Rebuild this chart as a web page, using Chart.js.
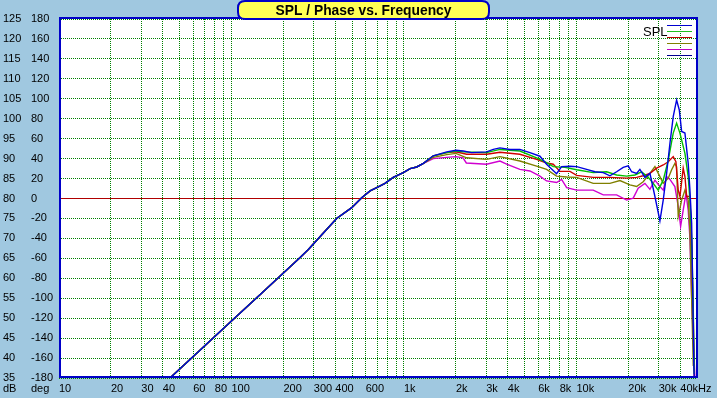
<!DOCTYPE html>
<html><head><meta charset="utf-8">
<script src="https://cdn.jsdelivr.net/npm/chart.js@4"></script>
<style>html,body{margin:0;padding:0;background:#A0C8E0;overflow:hidden}canvas{display:block}</style>
</head><body>
<canvas id="c" width="717" height="398"></canvas>
<script>
// ---- data (frequency in Hz, SPL in dB) ----
const commonFreq = [44, 60, 80, 100, 150, 200, 250, 279, 340, 407, 498, 569, 636, 700, 776, 867, 991, 1086, 1186, 1296];
const commonSpl  = [35.0, 40.4, 45.4, 49.3, 56.3, 61.3, 65.2, 67.2, 71.3, 75.0, 77.7, 80.2, 81.9, 82.8, 83.8, 85.3, 86.5, 87.5, 87.9, 88.8];

const blueFreq = [1479, 1770, 2001, 2206, 2468, 3015, 3294, 3602, 4115, 4699, 5373, 6141, 6713, 7671, 8203, 9170, 10030, 11460, 12790, 14300, 15630, 17100, 18670, 19960, 20890, 22330, 23330, 24950, 26670, 28510, 30480, 31850, 33330, 34830, 36400, 38080, 39470, 40740, 42560, 44460, 45500, 46550, 47200, 47950, 48400];
const blueSpl  = [90.7, 91.7, 92.1, 91.9, 91.5, 91.7, 92.3, 92.7, 92.3, 92.3, 91.5, 90.6, 88.6, 86.2, 88.0, 88.1, 88.0, 87.3, 86.7, 86.5, 85.7, 86.7, 87.8, 88.2, 86.7, 86.3, 87.3, 85.3, 86.3, 80.5, 74.4, 79.6, 86.3, 93.8, 100.5, 104.7, 102.2, 96.8, 96.4, 88.8, 82.1, 73.8, 58, 38, 33];

const greenFreq = [1479, 1770, 2001, 2206, 2522, 3015, 3602, 4699, 5875, 6713, 7338, 8577, 10030, 12510, 14960, 17100, 19540, 21830, 23870, 26070, 27880, 29790, 31850, 34070, 36400, 38080, 39810, 42560, 44460, 45500, 46550, 47580, 48200];
const greenSpl  = [90.7, 91.5, 91.9, 91.7, 91.6, 91.5, 92.3, 91.9, 90.2, 89.0, 88.0, 87.8, 87.2, 86.5, 86.7, 85.9, 85.6, 85.9, 86.7, 85.3, 83.8, 82.1, 84.6, 89.6, 96.4, 98.9, 96.4, 91.3, 85.5, 79.6, 70, 52, 36];

const redFreq = [1479, 1770, 2001, 2308, 3015, 3602, 4699, 5875, 6713, 7338, 8020, 9170, 10030, 12510, 15630, 19540, 22330, 24380, 26670, 29170, 31850, 34070, 36400, 37730, 38920, 39810, 41590, 42560, 43550, 45500, 46550, 47580, 48200];
const redSpl  = [90.7, 91.5, 91.7, 91.1, 91.1, 91.6, 91.1, 89.8, 88.9, 88.6, 86.8, 86.8, 85.8, 85.3, 85.3, 85.1, 85.3, 85.7, 86.3, 87.6, 88.4, 89.2, 90.5, 89.2, 82.1, 80.5, 87.6, 85.5, 80.5, 80.5, 68, 50, 35];

const oliveFreq = [1479, 1770, 2001, 2308, 3015, 3602, 4699, 5875, 6713, 7671, 8776, 10030, 12510, 15630, 17870, 20420, 22330, 24380, 26670, 28510, 30480, 31850, 34070, 35640, 37210, 38080, 38920, 40740, 42560, 44460, 45500, 46550, 47580];
const oliveSpl  = [90.3, 91.0, 91.3, 90.2, 89.8, 90.5, 89.4, 88.1, 87.3, 85.6, 85.4, 85.3, 83.8, 83.8, 84.5, 83.4, 83.0, 84.2, 86.3, 88.0, 85.5, 83.8, 85.1, 87.2, 88.8, 88.0, 75.5, 79.6, 82.1, 79.6, 72, 55, 38];

const magentaFreq = [1479, 1770, 2001, 2200, 2300, 3015, 3602, 3938, 4699, 5373, 6141, 6713, 7671, 8203, 8776, 10030, 12510, 14300, 17100, 19540, 21340, 22800, 24950, 26670, 28510, 30480, 31850, 33330, 34830, 37210, 38920, 40180, 41590, 43150, 44460, 45500, 46550, 47580, 48640];
const magentaSpl  = [90.0, 90.3, 90.5, 90.2, 88.9, 88.6, 89.4, 88.6, 87.3, 86.9, 85.6, 84.4, 84.0, 84.8, 82.7, 82.1, 82.1, 80.9, 80.9, 79.6, 80.1, 82.6, 83.8, 82.3, 84.6, 83.0, 82.1, 85.5, 84.8, 83.0, 78.0, 73.0, 77.1, 81.3, 77.1, 70, 55, 45, 35];

// ---- axis ticks ----
const gridFreqs = [10,20,30,40,50,60,70,80,90,100,200,300,400,500,600,700,800,900,1000,2000,3000,4000,5000,6000,7000,8000,9000,10000,20000,30000,40000,50000];
const freqLabelValues = [10,20,30,40,60,80,100,200,300,400,600,1000,2000,3000,4000,6000,8000,10000,20000,30000,40000];
const freqLabelTexts  = ['10','20','30','40','60','80','100','200','300','400','600','1k','2k','3k','4k','6k','8k','10k','20k','30k','40kHz'];
const dbMin = 35, dbMax = 125, dbStep = 5;
const degMin = -180, degMax = 180, degStep = 20;
const refDb = 80;

const legendTitle = 'SPL';
const legendColors = ['#0000D0', '#20C020', '#C00000', '#808000', '#C000C0', '#000090'];

function build(f, s) {
  return commonFreq.map((x, i) => ({x, y: commonSpl[i]})).concat(f.map((x, i) => ({x, y: s[i]})));
}

const FONT = '"Liberation Sans", Arial, sans-serif';

const decor = {
  id: 'decor',
  beforeDraw(chart) {
    const c = chart.ctx, a = chart.chartArea;
    c.save();
    c.fillStyle = '#A0C8E0';
    c.fillRect(0, 0, chart.width, chart.height);
    c.fillStyle = '#FFFFFF';
    c.fillRect(a.left, a.top, a.right - a.left, a.bottom - a.top);
    c.restore();
  },
  afterDraw(chart) {
    const c = chart.ctx, a = chart.chartArea;
    c.save();
    // frame
    c.strokeStyle = '#0000C8';
    c.lineWidth = 2;
    c.strokeRect(a.left + 1, a.top - 1, a.right - a.left - 1, a.bottom - a.top);
    // title box
    const bx = 238, by = 1, bw = 251, bh = 18, r = 7;
    c.beginPath();
    c.moveTo(bx + r, by);
    c.lineTo(bx + bw - r, by);
    c.quadraticCurveTo(bx + bw, by, bx + bw, by + r);
    c.lineTo(bx + bw, by + bh - r);
    c.quadraticCurveTo(bx + bw, by + bh, bx + bw - r, by + bh);
    c.lineTo(bx + r, by + bh);
    c.quadraticCurveTo(bx, by + bh, bx, by + bh - r);
    c.lineTo(bx, by + r);
    c.quadraticCurveTo(bx, by, bx + r, by);
    c.closePath();
    c.fillStyle = '#FFFF55';
    c.fill();
    c.lineWidth = 2;
    c.strokeStyle = '#0000C8';
    c.stroke();
    c.fillStyle = '#000000';
    c.font = 'bold 14px ' + FONT;
    c.textAlign = 'center';
    c.textBaseline = 'middle';
    c.fillText('SPL / Phase vs. Frequency', bx + bw / 2, by + bh / 2 + 1, 176);
    // legend
    c.font = '13px ' + FONT;
    c.textAlign = 'left';
    c.fillText(legendTitle, 643, 32);
    legendColors.forEach((col, i) => {
      c.strokeStyle = col;
      c.lineWidth = 1;
      c.beginPath();
      c.moveTo(667, 25.5 + i * 6);
      c.lineTo(692, 25.5 + i * 6);
      c.stroke();
    });
    // unit captions
    c.font = '11px ' + FONT;
    c.fillText('dB', 3, 389);
    c.fillText('deg', 31, 389);
    c.restore();
  }
};

const ds = (label, f, s, color) => ({
  label, data: build(f, s), borderColor: color, borderWidth: 1.4,
  pointRadius: 0, tension: 0, fill: false, yAxisID: 'y'
});

new Chart(document.getElementById('c'), {
  type: 'line',
  data: {
    datasets: [
      ds('SPL 1', blueFreq, blueSpl, '#0000E0'),
      ds('SPL 2', greenFreq, greenSpl, '#00C000'),
      ds('SPL 3', redFreq, redSpl, '#D00000'),
      ds('SPL 4', oliveFreq, oliveSpl, '#808000'),
      ds('SPL 5', magentaFreq, magentaSpl, '#D000D0')
    ]
  },
  options: {
    responsive: false,
    animation: false,
    devicePixelRatio: 1,
    layout: { padding: { left: 3, top: 19, right: 20, bottom: 0 } },
    plugins: { legend: { display: false }, tooltip: { enabled: false }, title: { display: false } },
    scales: {
      x: {
        type: 'logarithmic',
        min: 10, max: 50000,
        afterBuildTicks: s => { s.ticks = gridFreqs.map(v => ({ value: v })); },
        afterFit: s => { s.height = 20; },
        ticks: {
          autoSkip: false, maxRotation: 0, minRotation: 0, align: 'start', padding: 4,
          color: '#000', font: { family: FONT, size: 11 },
          callback: v => { const i = freqLabelValues.indexOf(v); return i >= 0 ? freqLabelTexts[i] : ''; }
        },
        grid: { color: '#008000', lineWidth: 1, drawTicks: false },
        border: { display: false, dash: [1, 1] }
      },
      y: {
        type: 'linear', position: 'left', weight: 2,
        min: dbMin, max: dbMax,
        afterFit: s => { s.width = 28; },
        ticks: { stepSize: dbStep, crossAlign: 'far', padding: 0, color: '#000', font: { family: FONT, size: 11 } },
        grid: {
          drawTicks: false, lineWidth: 1,
          color: ctx => (ctx.tick && ctx.tick.value === refDb) ? '#B00000' : '#008000'
        },
        border: { display: false, dash: ctx => (ctx.tick && ctx.tick.value === refDb) ? [] : [1, 1] }
      },
      y2: {
        type: 'linear', position: 'left', weight: 1,
        min: degMin, max: degMax,
        afterFit: s => { s.width = 28; },
        ticks: { stepSize: degStep, crossAlign: 'far', padding: 0, color: '#000', font: { family: FONT, size: 11 } },
        grid: { display: false },
        border: { display: false }
      }
    }
  },
  plugins: [decor]
});
</script>
</body></html>
